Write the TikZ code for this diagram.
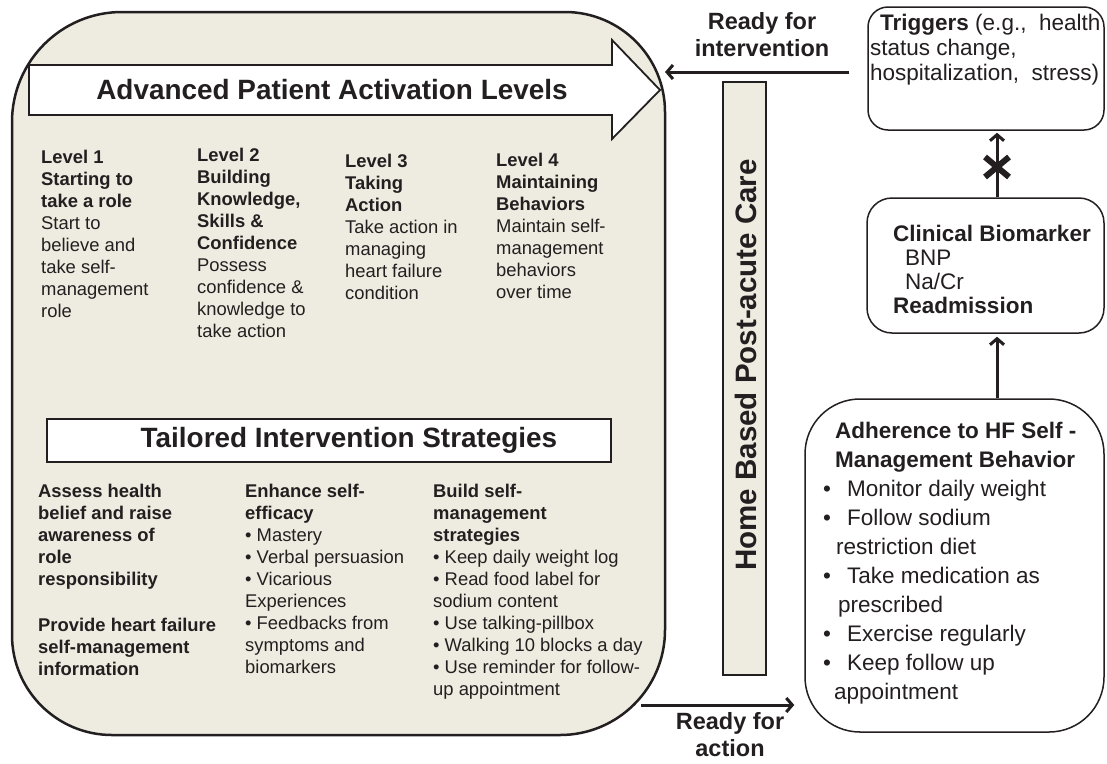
\documentclass[tikz,border=0pt]{standalone}
\usepackage{fontspec}
\setmainfont{Liberation Sans}
\usetikzlibrary{arrows.meta}
\definecolor{beige}{RGB}{238,235,224}
\definecolor{ink}{RGB}{35,31,32}
\begin{document}
\begin{tikzpicture}[x=1pt,y=-1pt,
  every node/.style={text=ink, inner sep=0pt},
  col/.style={font=\fontsize{18.4}{22}\selectfont, align=left, anchor=north west},
  rcol/.style={font=\fontsize{22.5}{24}\selectfont, align=left, anchor=north west},
  bigtxt/.style={font=\bfseries\fontsize{27.9}{32}\selectfont},
  rlab/.style={font=\bfseries\fontsize{23.5}{27}\selectfont, align=center},
  rbox/.style={draw=ink, line width=1.5pt, fill=white},
  conn/.style={draw=ink, line width=3pt, -{Straight Barb[length=6pt,width=14pt]}},
]
\useasboundingbox (0,0) rectangle (1107,763);

% big rounded container
\draw[draw=ink, line width=2.5pt, fill=beige]
  (12,122) .. controls (12,61.25) and (61.25,12) .. (122,12)
  -- (565,12) .. controls (620.2,12) and (665,56.8) .. (665,112)
  -- (665,630) .. controls (665,688) and (618,735) .. (560,735)
  -- (112,735) .. controls (56.8,735) and (12,690.2) .. (12,635) -- cycle;

% big arrow
\draw[draw=ink, line width=1.8pt, fill=white, line join=miter]
  (29,65) -- (612,65) -- (612,40) -- (660,90) -- (612,139) -- (612,115) -- (29,115) -- cycle;
\node[bigtxt] (apal) at (332,90) {Advanced Patient Activation Levels};

% levels
\node[col] (lv1) at (41,150) {\textbf{Level 1}\\\textbf{Starting to}\\\textbf{take a role}\\Start to\\believe and\\take self-\\management\\role};
\node[col] (lv2) at (197,148) {\textbf{Level 2}\\\textbf{Building}\\\textbf{Knowledge,}\\\textbf{Skills \&}\\\textbf{Confidence}\\Possess\\confidence \&\\knowledge to\\take action};
\node[col] (lv3) at (345,154) {\textbf{Level 3}\\\textbf{Taking}\\\textbf{Action}\\Take action in\\managing\\heart failure\\condition};
\node[col] (lv4) at (496,153) {\textbf{Level 4}\\\textbf{Maintaining}\\\textbf{Behaviors}\\Maintain self-\\management\\behaviors\\over time};

% tailored strategies box
\node[draw=ink, line width=1.5pt, fill=white, minimum width=564, minimum height=43, bigtxt] (tis) at (329,440.5) {\hspace*{40pt}Tailored Intervention Strategies};

\node[col, font=\bfseries\fontsize{18.4}{22}\selectfont] (st1) at (38,484) {Assess health\\belief and raise\\awareness of\\role\\responsibility\\[24pt]Provide heart failure\\self-management\\information};
\node[col] (st2) at (245,484) {\textbf{Enhance self-}\\\textbf{efficacy}\\• Mastery\\• Verbal persuasion\\• Vicarious\\Experiences\\• Feedbacks from\\symptoms and\\biomarkers};
\node[col] (st3) at (433,484) {\textbf{Build self-}\\\textbf{management}\\\textbf{strategies}\\• Keep daily weight log\\• Read food label for\\sodium content\\• Use talking-pillbox\\• Walking 10 blocks a day\\• Use reminder for follow-\\up appointment};

% vertical bar
\node[draw=ink, line width=1.5pt, fill=beige, minimum width=43, minimum height=593] (bar) at (744.5,378.5) {};
\node[rotate=90, font=\bfseries\fontsize{29.5}{32}\selectfont] (bartxt) at (746,365) {Home Based Post-acute Care};

% right boxes
\node[rbox, rounded corners=20, minimum width=236, minimum height=123] (tri) at (986,68.5) {};
\node[rcol, font=\fontsize{22.5}{25}\selectfont] (tritxt) at (870,14) {\hspace*{10pt}\textbf{Triggers} (e.g.,~ health\\status change,\\hospitalization,~ stress)};

\node[rbox, rounded corners=25, minimum width=237, minimum height=135] (cli) at (985.5,265.5) {};
\node[rcol] (clitxt) at (893,225) {\textbf{Clinical Biomarker}\\\hspace*{12pt}BNP\\\hspace*{12pt}Na/Cr\\\textbf{Readmission}};

\node[rbox, rounded corners=55, minimum width=299, minimum height=333] (adh) at (954.5,565.5) {};
\node[rcol, font=\fontsize{22.5}{29}\selectfont] (adhtxt) at (823,422) {\hspace*{12pt}\textbf{Adherence to HF Self -}\\\hspace*{12pt}\textbf{Management Behavior}\\\makebox[24pt][l]{•}Monitor daily weight\\\makebox[24pt][l]{•}Follow sodium\\\hspace*{13pt}restriction diet\\\makebox[24pt][l]{•}Take medication as\\\hspace*{15pt}prescribed\\\makebox[24pt][l]{•}Exercise regularly\\\makebox[24pt][l]{•}Keep follow up\\\hspace*{11pt}appointment};

% connectors
\coordinate (ax) at (997,0);
\draw[conn, shorten >=3pt] (adh.north -| ax) -- (cli.south -| ax);
\draw[conn, shorten >=2pt] (cli.north -| ax) -- (tri.south -| ax);
\draw[draw=ink, line width=6pt] (985,157) -- (1009,177) (985,177) -- (1009,157);

\coordinate (bigR) at (665,72);
\draw[conn, shorten <=18pt] (tri.west |- bigR) -- (bigR);
\node[rlab] (rfi) at (762,35) {Ready for\\intervention};

\coordinate (bigA) at (641,705);
\draw[conn, shorten >=10pt] (bigA) -- (bigA -| adh.west);
\node[rlab] (rfa) at (730,735) {Ready for\\action};
\end{tikzpicture}
\end{document}
